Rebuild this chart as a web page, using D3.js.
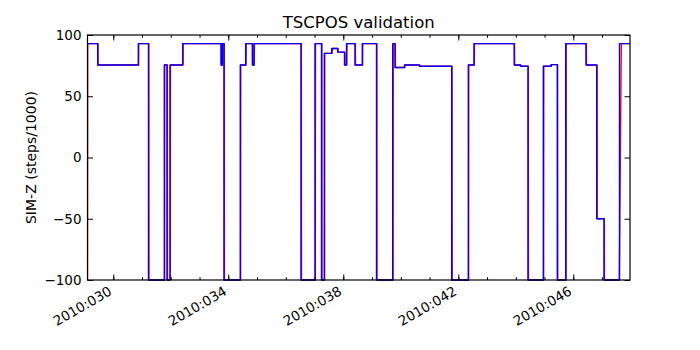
<!DOCTYPE html>
<html><head><meta charset="utf-8">
<script src="https://cdn.jsdelivr.net/npm/d3@7"></script>
<style>body{margin:0;background:#fff} text{font-family:"DejaVu Sans",sans-serif}</style>
</head><body><svg id="c" width="700" height="350"></svg>
<script>
// ---- data (day-of-year 2010, value) ----
const blueTimes = [29.103,29.457,30.870,31.224,31.774,31.868,31.972,32.414,33.746,33.791,33.850,34.417,34.605,34.835,34.894,36.529,37.016,37.242,37.339,37.597,37.805,38.042,38.111,38.407,38.661,39.155,39.718,39.798,40.129,40.650,41.770,42.348,42.546,43.944,44.163,44.424,44.957,45.224,45.443,45.736,46.442,46.814,47.068,47.607,47.972];
const blueValues = [93,75.5,93,-100,75.5,-100,75.5,93,75.5,93,-100,75.5,93,75.5,93,-100,93,-100,85,89,86,75.5,93,75.5,93,-100,93,73.5,75.5,74.5,-100,75.5,93,75.5,74.5,-100,74.5,75.8,-100,93,75.5,-50,-100,93,93];

const redTimes = [29.103,29.110,29.469,29.474,30.882,30.887,31.236,31.241,31.786,31.791,31.880,31.885,31.984,31.989,32.426,32.431,33.758,33.763,33.803,33.808,33.862,33.867,34.429,34.434,34.617,34.622,34.847,34.852,34.906,34.911,36.541,36.546,37.028,37.033,37.254,37.259,37.351,37.356,37.609,37.614,37.817,37.822,38.054,38.059,38.123,38.128,38.419,38.424,38.673,38.678,39.167,39.172,39.730,39.735,39.810,39.815,40.141,40.146,40.662,40.667,41.782,41.787,42.360,42.365,42.558,42.563,43.956,43.961,44.175,44.180,44.436,44.441,44.969,44.974,45.236,45.241,45.455,45.460,45.748,45.753,46.454,46.459,46.826,46.831,47.080,47.085,47.600,47.670,47.972];
const redValues = [-100,93,93,75.5,75.5,93,93,-100,-100,75.5,75.5,-100,-100,75.5,75.5,93,93,75.5,75.5,93,93,-100,-100,75.5,75.5,93,93,75.5,75.5,93,93,-100,-100,93,93,-100,-100,85,85,89,89,86,86,75.5,75.5,93,93,75.5,75.5,93,93,-100,-100,93,93,73.5,73.5,75.5,75.5,74.5,74.5,-100,-100,75.5,75.5,93,93,75.5,75.5,74.5,74.5,-100,-100,74.5,74.5,75.8,75.8,-100,-100,93,93,75.5,75.5,-50,-50,-100,-100,93,93];

const majorTickDays = [30,34,38,42,46];
const minorTickDays = [30,31,32,33,34,35,36,37,38,39,40,41,42,43,44,45,46,47];
const yTickValues = [-100,-50,0,50,100];
const xDomainDays = [29.103,47.972];
const yDomain = [-100,100];
const titleText = "TSCPOS validation";
const yLabelText = "SIM-Z (steps/1000)";

// ---- drawing ----
const toDate = d => new Date(Date.UTC(2010,0,1) + (d-1)*864e5);
const m = {l:87.5, r:630, t:35, b:280};
const svg = d3.select("#c");
const x = d3.scaleUtc().domain(xDomainDays.map(toDate)).range([m.l,m.r]);
const y = d3.scaleLinear().domain(yDomain).range([m.b,m.t]);
const fmt = d3.utcFormat("%Y:%j");

svg.append("clipPath").attr("id","clip").append("rect")
  .attr("x",m.l).attr("y",m.t-2).attr("width",m.r-m.l).attr("height",m.b-m.t+4);

const g = svg.append("g").attr("clip-path","url(#clip)");
const redLine = d3.line().x((d,i)=>x(toDate(redTimes[i]))).y(d=>y(d)).curve(d3.curveLinear);
const blueLine = d3.line().x((d,i)=>x(toDate(blueTimes[i]))).y(d=>y(d)).curve(d3.curveStepAfter);
g.append("path").attr("d",redLine(redValues)).attr("fill","none").attr("stroke","#ff0000").attr("stroke-width",1.4).attr("stroke-linejoin","round");
g.append("path").attr("d",blueLine(blueValues)).attr("fill","none").attr("stroke","#0000ff").attr("stroke-width",1.4).attr("stroke-linejoin","round");

function styleAxis(sel){
  sel.select(".domain").remove();
  sel.selectAll(".tick line").attr("stroke","#000").attr("stroke-width",1);
}
// bottom major
const bx = svg.append("g").attr("transform",`translate(0,${m.b})`)
  .call(d3.axisBottom(x).tickValues(majorTickDays.map(toDate)).tickSizeInner(-5.5).tickSizeOuter(0).tickFormat(fmt));
styleAxis(bx);
bx.selectAll(".tick text").attr("font-size","13.5px").attr("fill","#000")
  .attr("text-anchor","end").attr("y",0).attr("dy",0)
  .attr("transform","translate(-1,14) rotate(-30)");
// bottom minor
styleAxis(svg.append("g").attr("transform",`translate(0,${m.b})`)
  .call(d3.axisBottom(x).tickValues(minorTickDays.map(toDate)).tickSizeInner(-2.8).tickSizeOuter(0).tickFormat("")));
// top major/minor
styleAxis(svg.append("g").attr("transform",`translate(0,${m.t})`)
  .call(d3.axisTop(x).tickValues(majorTickDays.map(toDate)).tickSizeInner(-5.5).tickSizeOuter(0).tickFormat("")));
styleAxis(svg.append("g").attr("transform",`translate(0,${m.t})`)
  .call(d3.axisTop(x).tickValues(minorTickDays.map(toDate)).tickSizeInner(-2.8).tickSizeOuter(0).tickFormat("")));
// left
const ly = svg.append("g").attr("transform",`translate(${m.l},0)`)
  .call(d3.axisLeft(y).tickValues(yTickValues).tickSizeInner(-5.5).tickSizeOuter(0).tickPadding(5)
    .tickFormat(d => d < 0 ? "\u2212" + Math.abs(d) : d));
styleAxis(ly);
ly.selectAll(".tick text").attr("font-size","13.5px").attr("fill","#000").attr("x",-6);
// right
styleAxis(svg.append("g").attr("transform",`translate(${m.r},0)`)
  .call(d3.axisRight(y).tickValues(yTickValues).tickSizeInner(-5.5).tickSizeOuter(0).tickFormat("")));

// frame
svg.append("rect").attr("x",m.l).attr("y",m.t).attr("width",m.r-m.l).attr("height",m.b-m.t)
  .attr("fill","none").attr("stroke","#000").attr("stroke-width",1.2);

svg.append("text").attr("x",(m.l+m.r)/2).attr("y",28).attr("text-anchor","middle")
  .attr("font-size","16.5px").text(titleText);
svg.append("text").attr("transform",`translate(36,${(m.t+m.b)/2}) rotate(-90)`).attr("text-anchor","middle")
  .attr("font-size","14px").text(yLabelText);
</script></body></html>
